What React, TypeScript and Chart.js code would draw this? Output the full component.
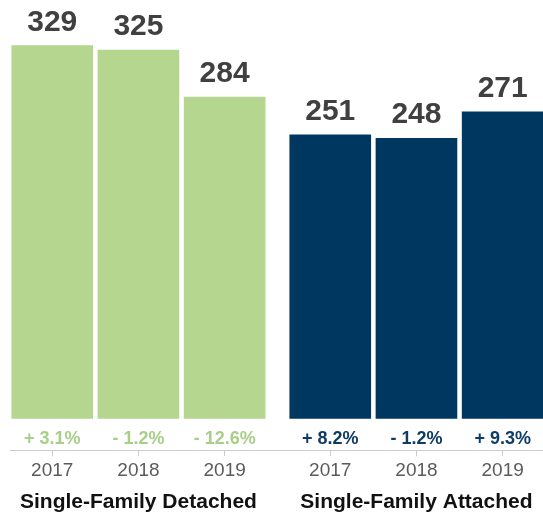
import { useEffect, useRef } from "react";
import { Chart, registerables } from "chart.js";

Chart.register(...registerables);

const groups = ["Single-Family Detached", "Single-Family Attached"];
const years = ["2017", "2018", "2019"];
const detachedValues = [329, 325, 284];
const attachedValues = [251, 248, 271];
const detachedChange = ["+ 3.1%", "- 1.2%", "- 12.6%"];
const attachedChange = ["+ 8.2%", "- 1.2%", "+ 9.3%"];

const seriesValues = [detachedValues, attachedValues];
const seriesChanges = [detachedChange, attachedChange];
const barColors = ["#b4d68f", "#003761"];
const changeColors = ["#a8cf88", "#0f3c64"];

const GROUP_GAP = 0.225;
const pos = (g: number, i: number) => g * (years.length + GROUP_GAP) + i;
const allPositions = groups.flatMap((_, g) => years.map((__, i) => pos(g, i)));

const FONT = "'Liberation Sans', Arial, Helvetica, sans-serif";

const labelPlugin = {
  id: "barLabels",
  afterDatasetsDraw(chart: any) {
    const ctx = chart.ctx as CanvasRenderingContext2D;
    const { chartArea } = chart;
    ctx.save();
    ctx.textAlign = "center";
    ctx.textBaseline = "alphabetic";
    chart.data.datasets.forEach((_: any, di: number) => {
      const meta = chart.getDatasetMeta(di);
      meta.data.forEach((bar: any, i: number) => {
        ctx.font = `bold 30px ${FONT}`;
        ctx.fillStyle = "#404040";
        ctx.fillText(String(seriesValues[di][i]), bar.x, bar.y - 15);
        ctx.font = `bold 18px ${FONT}`;
        ctx.fillStyle = changeColors[di];
        ctx.fillText(seriesChanges[di][i], bar.x, chartArea.bottom - 6.5);
      });
      const mid = meta.data[1];
      ctx.font = `bold 21px ${FONT}`;
      ctx.fillStyle = "#111111";
      ctx.fillText(groups[di], mid.x, chartArea.bottom + 58);
    });
    ctx.restore();
  },
};

export default function App() {
  const canvasRef = useRef<HTMLCanvasElement | null>(null);

  useEffect(() => {
    if (!canvasRef.current) return;
    const chart = new Chart(canvasRef.current, {
      type: "bar",
      data: {
        datasets: groups.map((label, g) => ({
          label,
          data: seriesValues[g].map((v, i) => ({ x: pos(g, i), y: v })),
          backgroundColor: barColors[g],
          borderWidth: 0,
          barThickness: 81,
          grouped: false,
          base: 3,
        })),
      },
      options: {
        animation: false,
        responsive: true,
        maintainAspectRatio: false,
        layout: { padding: { left: 10, right: 0, top: 0, bottom: 31 } },
        plugins: {
          legend: { display: false },
          tooltip: { enabled: false },
        },
        scales: {
          x: {
            type: "linear",
            offset: false,
            min: -0.49,
            max: 5.693,
            afterBuildTicks: (scale: any) => {
              scale.ticks = allPositions.map((v) => ({ value: v }));
            },
            ticks: {
              autoSkip: false,
              maxRotation: 0,
              padding: 3,
              color: "#5b5b5b",
              font: { size: 19, family: FONT },
              callback: (_v: any, idx: number) => years[idx % years.length],
            },
            grid: {
              offset: false,
              drawOnChartArea: false,
              drawTicks: true,
              tickLength: 6,
              color: "#cccccc",
            },
            border: { display: true, color: "#cccccc", width: 1 },
          },
          y: {
            display: false,
            min: -24.9,
            max: 368.9,
          },
        },
      },
      plugins: [labelPlugin],
    } as any);
    return () => chart.destroy();
  }, []);

  return (
    <div style={{ position: "fixed", left: 0, top: 0, width: 543, height: 516, background: "#fff" }}>
      <canvas ref={canvasRef} />
    </div>
  );
}
